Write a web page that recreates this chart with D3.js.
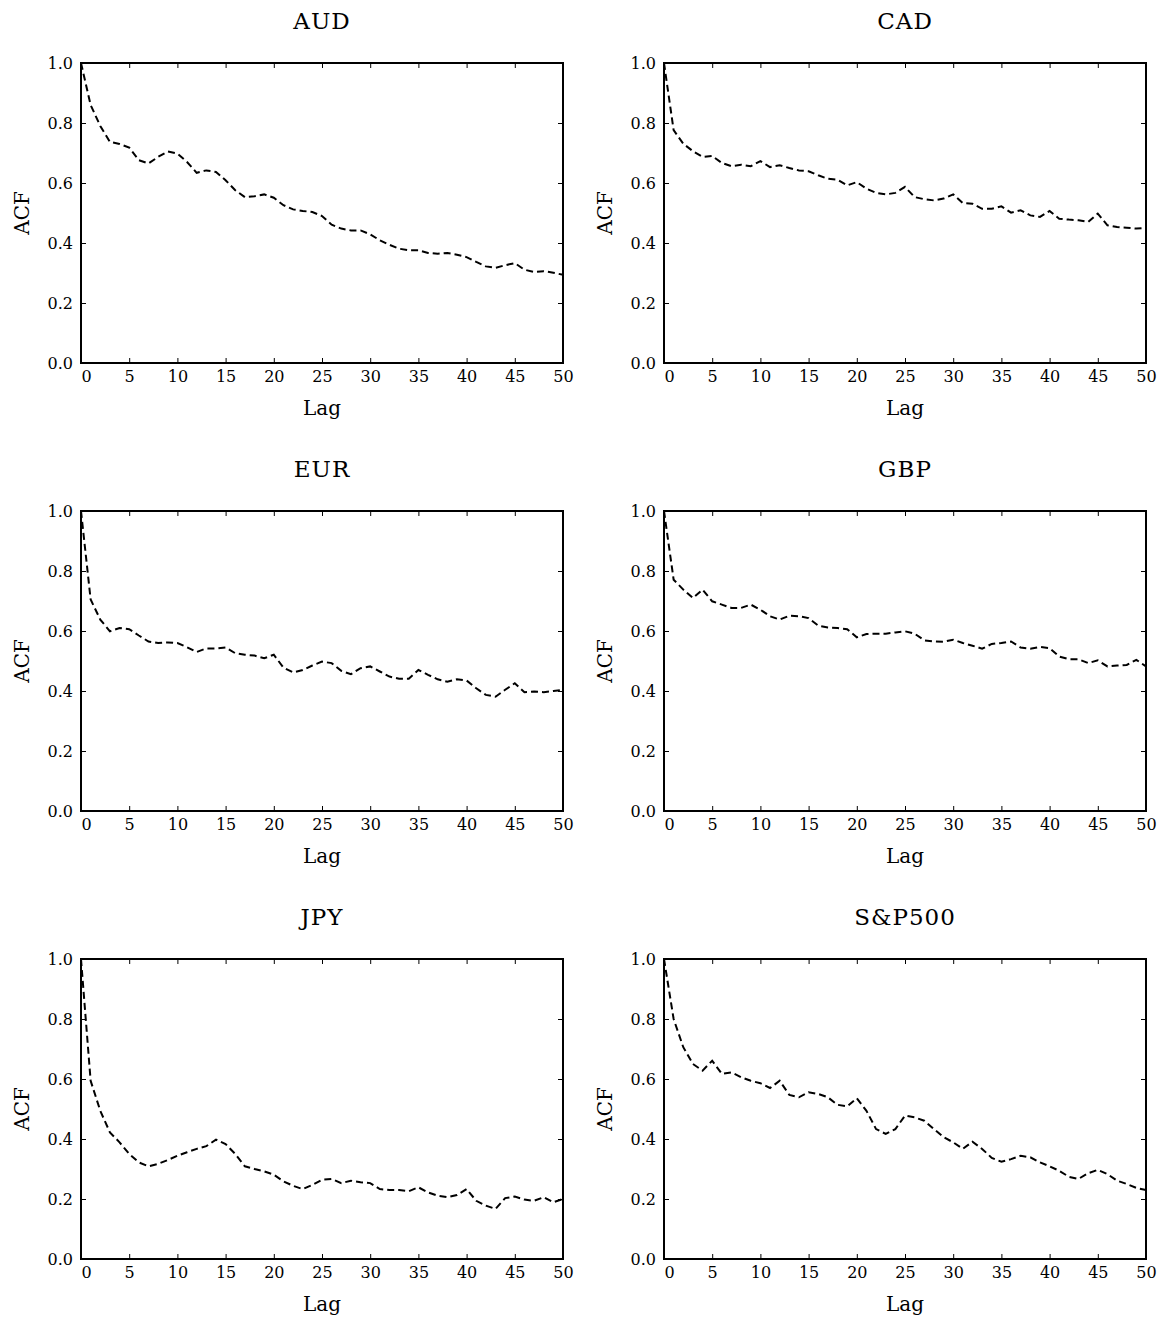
<!DOCTYPE html>
<html>
<head>
<meta charset="utf-8">
<script src="https://cdn.jsdelivr.net/npm/d3@7"></script>
<style>
  body { margin: 0; background: #fff; }
  svg text { font-family: "DejaVu Serif", "Liberation Serif", serif; fill: #000; }
</style>
</head>
<body>
<div id="chart"></div>
<script>
// series names, one panel each
var names = ["AUD", "CAD", "EUR", "GBP", "JPY", "S&P500"]

// ACF values for lags 0..50
var audAcf = [1.0, 0.86, 0.79, 0.737, 0.73, 0.718, 0.676, 0.665, 0.687, 0.705, 0.698, 0.67, 0.634, 0.642, 0.637,
  0.609, 0.576, 0.553, 0.556, 0.562, 0.551, 0.526, 0.512, 0.507, 0.503, 0.49, 0.461, 0.448, 0.442, 0.442,
  0.429, 0.409, 0.394, 0.381, 0.376, 0.376, 0.367, 0.364, 0.367, 0.361, 0.353, 0.337, 0.322, 0.317, 0.326,
  0.333, 0.311, 0.303, 0.306, 0.301, 0.294]
var cadAcf = [1.0, 0.776, 0.731, 0.706, 0.687, 0.69, 0.667, 0.656, 0.661, 0.656, 0.673, 0.653, 0.659, 0.65, 0.642,
  0.639, 0.626, 0.614, 0.611, 0.592, 0.603, 0.581, 0.567, 0.562, 0.567, 0.587, 0.553, 0.546, 0.542, 0.548,
  0.562, 0.533, 0.531, 0.514, 0.514, 0.522, 0.501, 0.509, 0.492, 0.487, 0.507, 0.481, 0.478, 0.476, 0.47,
  0.498, 0.459, 0.453, 0.451, 0.448, 0.45]
var eurAcf = [1.0, 0.705, 0.638, 0.599, 0.61, 0.606, 0.585, 0.565, 0.56, 0.562, 0.56, 0.546, 0.53, 0.542, 0.542,
  0.545, 0.526, 0.521, 0.518, 0.509, 0.521, 0.478, 0.462, 0.47, 0.485, 0.498, 0.493, 0.467, 0.456, 0.476,
  0.482, 0.465, 0.448, 0.441, 0.441, 0.47, 0.454, 0.439, 0.431, 0.439, 0.435, 0.409, 0.387, 0.381, 0.404,
  0.426, 0.396, 0.398, 0.396, 0.4, 0.404]
var gbpAcf = [1.0, 0.771, 0.738, 0.71, 0.738, 0.699, 0.688, 0.677, 0.677, 0.688, 0.671, 0.649, 0.638, 0.651, 0.649,
  0.643, 0.618, 0.612, 0.61, 0.606, 0.579, 0.59, 0.591, 0.591, 0.595, 0.599, 0.591, 0.569, 0.565, 0.564,
  0.571, 0.56, 0.551, 0.541, 0.557, 0.56, 0.565, 0.545, 0.541, 0.547, 0.543, 0.515, 0.506, 0.506, 0.493,
  0.502, 0.482, 0.485, 0.487, 0.504, 0.482]
var jpyAcf = [1.0, 0.594, 0.494, 0.422, 0.389, 0.35, 0.322, 0.309, 0.317, 0.33, 0.344, 0.356, 0.367, 0.376, 0.398,
  0.383, 0.35, 0.309, 0.3, 0.292, 0.281, 0.259, 0.244, 0.233, 0.247, 0.264, 0.267, 0.253, 0.261, 0.256,
  0.253, 0.233, 0.23, 0.23, 0.226, 0.239, 0.222, 0.211, 0.206, 0.213, 0.233, 0.194, 0.178, 0.167, 0.203,
  0.208, 0.198, 0.194, 0.206, 0.189, 0.2]
var spxAcf = [1.0, 0.8, 0.706, 0.65, 0.628, 0.661, 0.617, 0.622, 0.606, 0.594, 0.586, 0.57, 0.594, 0.547, 0.539,
  0.556, 0.55, 0.539, 0.514, 0.509, 0.536, 0.494, 0.433, 0.417, 0.433, 0.478, 0.472, 0.461, 0.433, 0.406,
  0.389, 0.367, 0.391, 0.367, 0.337, 0.324, 0.333, 0.344, 0.339, 0.322, 0.309, 0.294, 0.274, 0.267, 0.286,
  0.297, 0.283, 0.261, 0.25, 0.237, 0.23]

var xTicks = [0, 5, 10, 15, 20, 25, 30, 35, 40, 45, 50]
var yTicks = [0.0, 0.2, 0.4, 0.6, 0.8, 1.0]

var allSeries = [audAcf, cadAcf, eurAcf, gbpAcf, jpyAcf, spxAcf]

var width = 1167, height = 1323
var plotW = 482, plotH = 300
var lefts = [81, 664]
var tops = [63, 511, 959]

var svg = d3.select('#chart')
    .append('svg')
    .attr('width', width)
    .attr('height', height)

function drawPanel(i) {
    var left = lefts[i % 2]
    var top = tops[Math.floor(i / 2)]
    var values = allSeries[i]

    var xScale = d3.scaleLinear().domain([0, 50]).range([left, left + plotW])
    var yScale = d3.scaleLinear().domain([0, 1]).range([top + plotH, top])

    var g = svg.append('g')

    // inward ticks on all four sides, like the classic matplotlib look
    var xAxis = d3.axisBottom(xScale).tickValues(xTicks).tickFormat(d3.format('d'))
        .tickSizeInner(-5).tickSizeOuter(0).tickPadding(8)
    var xTop = d3.axisTop(xScale).tickValues(xTicks).tickFormat('')
        .tickSizeInner(-5).tickSizeOuter(0)
    var yAxis = d3.axisLeft(yScale).tickValues(yTicks).tickFormat(d3.format('.1f'))
        .tickSizeInner(-5).tickSizeOuter(0).tickPadding(8)
    var yRight = d3.axisRight(yScale).tickValues(yTicks).tickFormat('')
        .tickSizeInner(-5).tickSizeOuter(0)

    var gx = g.append('g').attr('transform', 'translate(0,' + (top + plotH) + ')').call(xAxis)
    g.append('g').attr('transform', 'translate(0,' + top + ')').call(xTop)
    var gy = g.append('g').attr('transform', 'translate(' + left + ',0)').call(yAxis)
    g.append('g').attr('transform', 'translate(' + (left + plotW) + ',0)').call(yRight)

    g.selectAll('.domain').remove()
    g.selectAll('.tick line').attr('stroke', '#000').attr('stroke-width', 1)
    gx.selectAll('text').style('font-size', '16px').style('font-family', '"DejaVu Serif", serif')
    gy.selectAll('text').style('font-size', '16px').style('font-family', '"DejaVu Serif", serif')
    // first x label sits a little right of its tick in the reference
    gx.selectAll('.tick text').filter(function(d) { return d === 0 }).attr('x', 5)

    var line = d3.line()
        .x(function(d, k) { return xScale(k) })
        .y(function(d) { return yScale(d) })

    g.append('path')
        .attr('d', line(values))
        .attr('fill', 'none')
        .attr('stroke', '#000')
        .attr('stroke-width', 2)
        .attr('stroke-dasharray', '7,4')

    // frame
    g.append('rect')
        .attr('x', left).attr('y', top)
        .attr('width', plotW).attr('height', plotH)
        .attr('fill', 'none')
        .attr('stroke', '#000')
        .attr('stroke-width', 2)

    g.append('text')
        .attr('x', left + plotW / 2)
        .attr('y', top - 34)
        .attr('text-anchor', 'middle')
        .style('font-size', '23px')
        .style('letter-spacing', '1px')
        .text(names[i])

    g.append('text')
        .attr('x', left + plotW / 2)
        .attr('y', top + plotH + 52)
        .attr('text-anchor', 'middle')
        .style('font-size', '20px')
        .text('Lag')

    g.append('text')
        .attr('transform', 'translate(' + (left - 52) + ',' + (top + plotH / 2) + ') rotate(-90)')
        .attr('text-anchor', 'middle')
        .style('font-size', '20px')
        .text('ACF')
}

for (var i = 0; i < names.length; i++) {
    drawPanel(i)
}
</script>
</body>
</html>
